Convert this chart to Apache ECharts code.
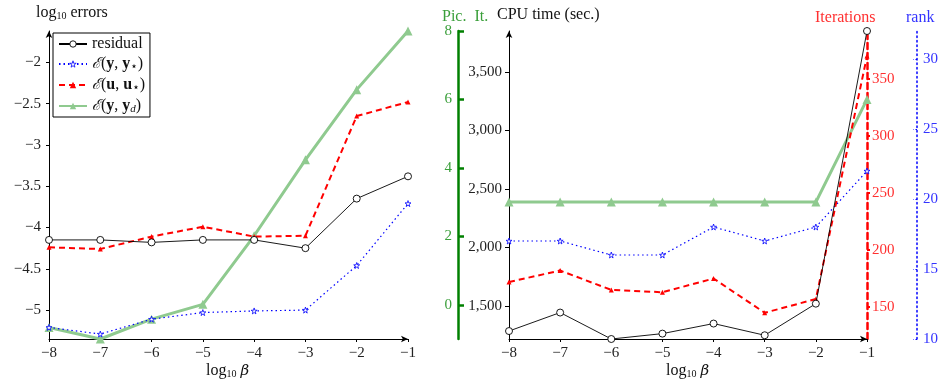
<!DOCTYPE html>
<html><head><meta charset="utf-8">
<script src="https://cdn.jsdelivr.net/npm/echarts@6/dist/echarts.min.js"></script>
<style>html,body{margin:0;padding:0;background:#fff}#c{width:942px;height:383px}</style>
</head><body><div id="c"></div>
<script>
// ---- data ----
const logBeta = [-8, -7, -6, -5, -4, -3, -2, -1];
// left panel: log10 errors
const residual = [-4.15, -4.15, -4.18, -4.15, -4.15, -4.25, -3.65, -3.38];
const errYYstar = [-5.21, -5.29, -5.11, -5.03, -5.01, -5.00, -4.46, -3.71];
const errUUstar = [-4.24, -4.26, -4.11, -3.99, -4.11, -4.10, -2.65, -2.48];
const errYYd = [-5.21, -5.35, -5.11, -4.93, -4.10, -3.18, -2.33, -1.62];
const leftTicks = [-5, -4.5, -4, -3.5, -3, -2.5, -2];
// right panel
const cpuTime = [1286, 1444, 1218, 1264, 1350, 1250, 1520, 3850];
const rank = [17, 17, 16, 16, 18, 17, 18, 22];
const iterations = [172, 182, 165, 163, 175, 145, 157, 370];
const picardIt = [3, 3, 3, 3, 3, 3, 3, 6];
const cpuTicks = [1500, 2000, 2500, 3000, 3500];
const picTicks = [0, 2, 4, 6, 8];
const iterTicks = [150, 200, 250, 300, 350];
const rankTicks = [10, 15, 20, 25, 30];

const FONT = 'Liberation Serif';
const FS = 15;   // tick labels
const WS = 16;   // words
const minus = v => String(v).replace('-', '\u2212');
const pairs = arr => logBeta.map((x, i) => [x, arr[i]]);
const thousands = v => String(v).replace(/\B(?=(\d{3})+(?!\d))/g, ',');
const starPath = 'path://M50,0 L61,35 L98,35 L68,57 L79,91 L50,70 L21,91 L32,57 L2,35 L39,35 Z';
const GREEN_LINE = '#8fca8f';

const baseX = (grid) => ({
  type: 'value', gridIndex: grid, min: -8, max: -1, interval: 1,
  axisLine: { show: true, onZero: false, lineStyle: { color: '#000', width: 1 }, symbol: ['none', 'arrow'], symbolSize: [5, 7] },
  axisTick: { show: true, length: 3, lineStyle: { color: '#000' } },
  axisLabel: { formatter: minus, color: '#222', fontFamily: FONT, fontSize: FS, margin: 7 },
  splitLine: { show: false }
});

const rich = {
  e: { fontFamily: 'DejaVu Serif', fontStyle: 'italic', fontSize: 15, color: '#111', lineHeight: 18 },
  t: { fontFamily: FONT, fontSize: WS, color: '#111', lineHeight: 18 },
  b: { fontFamily: FONT, fontSize: WS, fontWeight: 'bold', color: '#111', lineHeight: 18 },
  s: { fontFamily: FONT, fontSize: 10, color: '#111', padding: [7, 0, 0, 0] },
  st: { fontFamily: 'DejaVu Sans', fontSize: 12, color: '#111', padding: [6, 0, 0, 0] },
  si: { fontFamily: FONT, fontSize: 11, fontStyle: 'italic', color: '#111', padding: [7, 0, 0, 0] }
};
const legendNames = {
  'residual': '{t|residual}',
  'yy*': '{e|\u2130}{t|(}{b|y}{t|, }{b|y}{st|\u22c6}{t|)}',
  'uu*': '{e|\u2130}{t|(}{b|u}{t|, }{b|u}{st|\u22c6}{t|)}',
  'yyd': '{e|\u2130}{t|(}{b|y}{t|, }{b|y}{si|d}{t|)}'
};

const option = {
  animation: false,
  backgroundColor: '#fff',
  grid: [
    { left: 49, right: 534, top: 31, bottom: 44 },
    { left: 509, right: 75, top: 31, bottom: 44 }
  ],
  legend: {
    data: [
      { name: 'residual', itemStyle: { color: '#fff', borderColor: '#000', borderWidth: 0.9 } },
      { name: 'yy*', itemStyle: { color: '#fff', borderColor: '#0000ff', borderWidth: 0.8 } },
      { name: 'uu*', itemStyle: { color: '#ff0000' } },
      { name: 'yyd', itemStyle: { color: GREEN_LINE } }
    ],
    orient: 'vertical', left: 53, top: 33,
    itemWidth: 28, itemHeight: 8, itemGap: 4,
    borderColor: '#000', borderWidth: 1, padding: [3, 5, 2, 5],
    backgroundColor: '#fff',
    formatter: n => legendNames[n],
    textStyle: { rich: rich, fontFamily: FONT, fontSize: WS }
  },
  xAxis: [baseX(0), baseX(1)],
  yAxis: [
    {
      type: 'value', gridIndex: 0, min: -5.35, max: -1.62,
      axisLine: { show: true, onZero: false, lineStyle: { color: '#000', width: 1 }, symbol: ['none', 'arrow'], symbolSize: [5, 7] },
      axisTick: { show: true, length: 3, customValues: leftTicks, lineStyle: { color: '#000' } },
      axisLabel: { customValues: leftTicks, formatter: minus, color: '#222', fontFamily: FONT, fontSize: FS, margin: 8 },
      splitLine: { show: false }
    },
    { // CPU
      type: 'value', gridIndex: 1, min: 1218, max: 3850, position: 'left',
      axisLine: { show: true, onZero: false, lineStyle: { color: '#000', width: 1 }, symbol: ['none', 'arrow'], symbolSize: [5, 7] },
      axisTick: { show: true, length: 4, customValues: cpuTicks, lineStyle: { color: '#000' } },
      axisLabel: { customValues: cpuTicks, formatter: thousands, color: '#222', fontFamily: FONT, fontSize: FS, margin: 7 },
      splitLine: { show: false }
    },
    { // Picard iterations
      type: 'value', gridIndex: 1, min: -1, max: 8, position: 'left', offset: 51,
      axisLine: { show: true, onZero: false, lineStyle: { color: '#008000', width: 2.5 } },
      axisTick: { show: true, inside: true, length: 6, customValues: picTicks, lineStyle: { color: '#008000', width: 2.5 } },
      axisLabel: { customValues: picTicks, color: '#3a9f3a', fontFamily: FONT, fontSize: FS, margin: 6 },
      splitLine: { show: false }
    },
    { // Iterations
      type: 'value', gridIndex: 1, min: 122, max: 392, position: 'right', offset: 0,
      axisLine: { show: true, onZero: false, lineStyle: { color: '#ff0000', width: 2.5, type: [6, 4] } },
      axisTick: { show: true, length: 3, customValues: iterTicks, lineStyle: { color: '#ff0000', width: 2 } },
      axisLabel: { customValues: iterTicks, color: '#ff3030', fontFamily: FONT, fontSize: FS, margin: 5 },
      splitLine: { show: false }
    },
    { // rank
      type: 'value', gridIndex: 1, min: 10, max: 32, position: 'right', offset: 50,
      axisLine: { show: true, onZero: false, lineStyle: { color: '#0000ff', width: 1.5, type: [1.5, 3] } },
      axisTick: { show: true, inside: true, length: 4, customValues: rankTicks, lineStyle: { color: '#0000ff', width: 1, type: [1.5, 2] } },
      axisLabel: { customValues: rankTicks, color: '#3333ff', fontFamily: FONT, fontSize: FS, margin: 6 },
      splitLine: { show: false }
    }
  ],
  series: [
    {
      name: 'yyd', type: 'line', xAxisIndex: 0, yAxisIndex: 0, data: pairs(errYYd),
      symbol: 'triangle', symbolSize: 9, lineStyle: { color: GREEN_LINE, width: 3 },
      itemStyle: { color: GREEN_LINE }, z: 2
    },
    {
      name: 'residual', type: 'line', xAxisIndex: 0, yAxisIndex: 0, data: pairs(residual),
      symbol: 'circle', symbolSize: 7, lineStyle: { color: '#000', width: 0.9 },
      itemStyle: { color: '#fff', borderColor: '#000', borderWidth: 0.9 }, z: 4
    },
    {
      name: 'yy*', type: 'line', xAxisIndex: 0, yAxisIndex: 0, data: pairs(errYYstar),
      symbol: starPath, symbolSize: 6, lineStyle: { color: '#0000ff', width: 1.2, type: [1.5, 3] },
      itemStyle: { color: '#fff', borderColor: '#0000ff', borderWidth: 0.8 }, z: 3
    },
    {
      name: 'uu*', type: 'line', xAxisIndex: 0, yAxisIndex: 0, data: pairs(errUUstar),
      symbol: 'triangle', symbolSize: 5, lineStyle: { color: '#ff0000', width: 2, type: [6, 4] },
      itemStyle: { color: '#ff0000' }, z: 3
    },
    // right panel
    {
      name: 'picR', type: 'line', xAxisIndex: 1, yAxisIndex: 2, data: pairs(picardIt),
      symbol: 'triangle', symbolSize: 9, lineStyle: { color: GREEN_LINE, width: 3 },
      itemStyle: { color: GREEN_LINE }, z: 2
    },
    {
      name: 'rankR', type: 'line', xAxisIndex: 1, yAxisIndex: 4, data: pairs(rank),
      symbol: starPath, symbolSize: 6, lineStyle: { color: '#0000ff', width: 1.2, type: [1.5, 3] },
      itemStyle: { color: '#fff', borderColor: '#0000ff', borderWidth: 0.8 }, z: 3
    },
    {
      name: 'iterR', type: 'line', xAxisIndex: 1, yAxisIndex: 3, data: pairs(iterations),
      symbol: 'triangle', symbolSize: 5, lineStyle: { color: '#ff0000', width: 2, type: [6, 4] },
      itemStyle: { color: '#ff0000' }, z: 3
    },
    {
      name: 'cpuR', type: 'line', xAxisIndex: 1, yAxisIndex: 1, data: pairs(cpuTime),
      symbol: 'circle', symbolSize: 7, lineStyle: { color: '#000', width: 0.9 },
      itemStyle: { color: '#fff', borderColor: '#000', borderWidth: 0.9 }, z: 4
    }
  ],
  graphic: [
    { type: 'text', left: 36, top: 5, style: { text: '{t|log}{s|10}{t| errors}', rich: rich, fill: '#111' } },
    { type: 'text', left: 206, top: 363, style: { text: '{t|log}{s|10}{t| }{e|\u03b2}', rich: rich, fill: '#111' } },
    { type: 'text', left: 666, top: 363, style: { text: '{t|log}{s|10}{t| }{e|\u03b2}', rich: rich, fill: '#111' } },
    { type: 'text', left: 442, top: 9, style: { text: 'Pic.  It.', fontFamily: FONT, fontSize: WS, fill: '#3a9f3a' } },
    { type: 'text', left: 497, top: 7, style: { text: 'CPU time (sec.)', fontFamily: FONT, fontSize: WS, fill: '#111' } },
    { type: 'text', left: 815, top: 10, style: { text: 'Iterations', fontFamily: FONT, fontSize: WS, fill: '#ff3030' } },
    { type: 'text', left: 906, top: 10, style: { text: 'rank', fontFamily: FONT, fontSize: WS, fill: '#3333ff' } }
  ]
};
const chart = echarts.init(document.getElementById('c'), null, { renderer: 'canvas' });
chart.setOption(option);
</script>
</body></html>
